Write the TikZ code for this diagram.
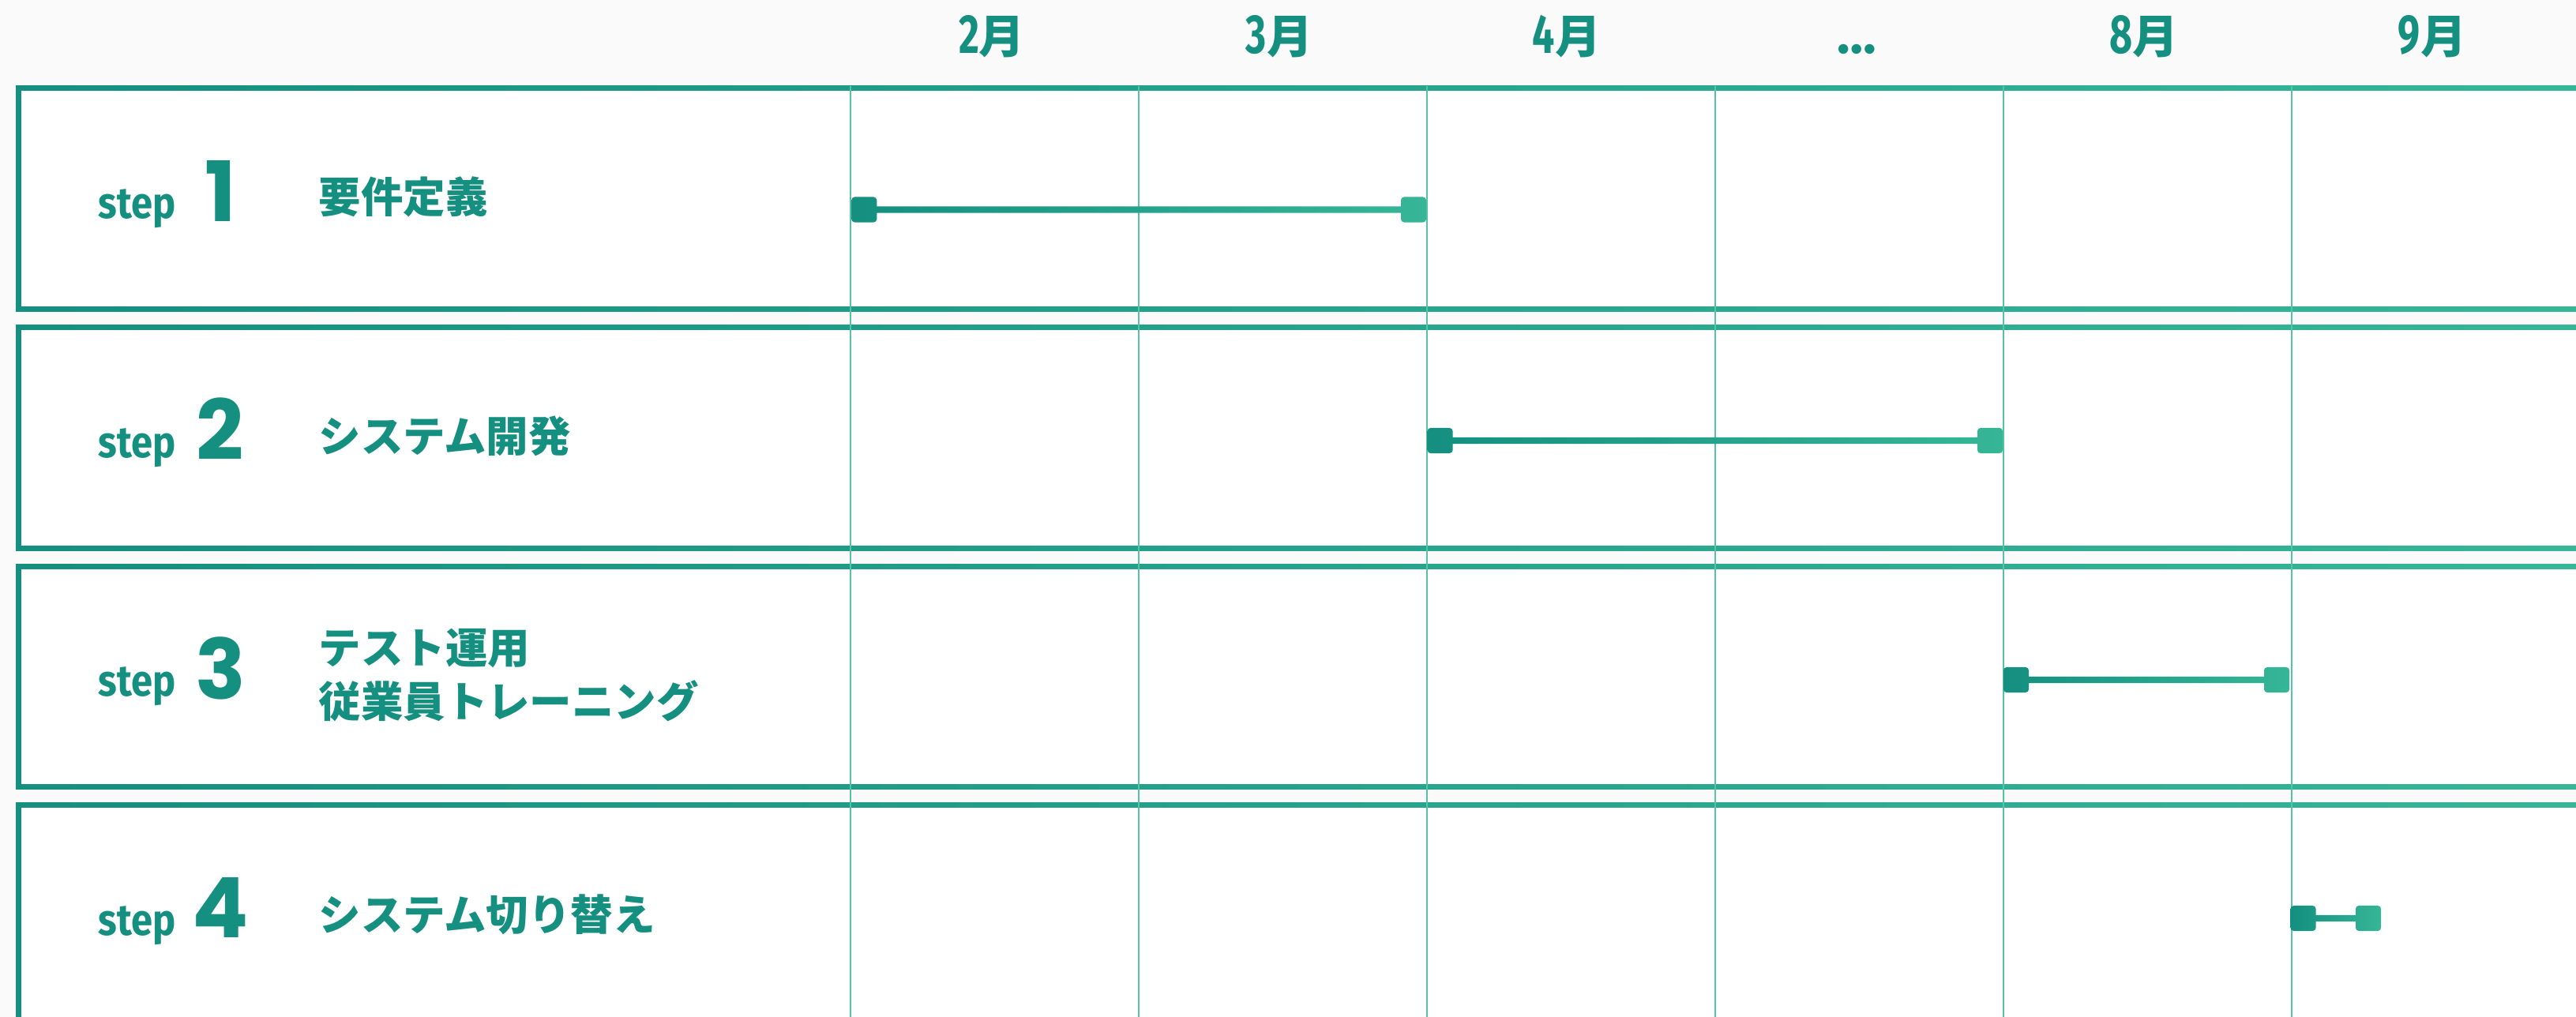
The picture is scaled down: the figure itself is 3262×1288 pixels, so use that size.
\documentclass[tikz,border=0pt]{standalone}
\usepackage{fontspec}
\usetikzlibrary{calc}
\newfontfamily\jpfont{Noto Sans CJK JP}
\newfontfamily\latfont{Fira Sans}
\newfontfamily\stepfont{Fira Sans}[FakeStretch=0.88]
\newfontfamily\monfont{Fira Sans}[FakeStretch=0.72]
\newfontfamily\numfont{Poppins}
\definecolor{gDark}{HTML}{148F80}
\definecolor{gLight}{HTML}{36B697}
\definecolor{txt}{HTML}{158F80}
\definecolor{gridc}{HTML}{55C3A4}
\definecolor{bg}{HTML}{FAFAFA}
\newcommand\mnum[1]{{\monfont\bfseries\fontsize{19.8pt}{20pt}\selectfont #1}}
\newcommand\mtsuki{{\jpfont\bfseries\fontsize{16.5pt}{20pt}\selectfont 月}}
\begin{document}
\begin{tikzpicture}[x=0.01cm,y=-0.01cm,
  month/.style={anchor=base, text=txt, inner sep=0pt},
  steplbl/.style={anchor=base west, text=txt, inner sep=0pt, font=\stepfont\bfseries\fontsize{15.8pt}{16pt}\selectfont},
  stepnum/.style={anchor=base, text=txt, inner sep=0pt, font=\numfont\bfseries\fontsize{30pt}{32pt}\selectfont},
  task/.style={anchor=west, text=txt, inner sep=0pt, align=left, font=\jpfont\bfseries\fontsize{15.2pt}{19.06pt}\selectfont},
  sq/.style={minimum size=0.32cm, inner sep=0pt, outer sep=0pt},
  gridline/.style={draw=gridc, line width=0.018cm},
  bar/.style={left color=gDark, right color=gLight}
]
\useasboundingbox (0,0) rectangle (3262,1288);
\clip (0,0) rectangle (3262,1288);
\fill[bg] (0,0) rectangle (3262,1288);

% header
\node[month] (m2) at (1256,68) {\mnum{2}\mtsuki};
\node[month] (m3) at (1620,68) {\mnum{3}\mtsuki};
\node[month] (m4) at (1984,68) {\mnum{4}\mtsuki};
\node[month, font=\latfont\bfseries\fontsize{19.4pt}{20pt}\selectfont] (mdots) at (2351,68) {…};
\node[month] (m8) at (2715,68) {\mnum{8}\mtsuki};
\node[month] (m9) at (3080,68) {\mnum{9}\mtsuki};

% row boxes
\shade[bar] (20,109) rectangle (3262,394.5);
\fill[white] (26.5,115.5) rectangle (3262,388);
\shade[bar] (20,411.5) rectangle (3262,697);
\fill[white] (26.5,418) rectangle (3262,690.5);
\shade[bar] (20,714) rectangle (3262,999.5);
\fill[white] (26.5,720.5) rectangle (3262,993);
\shade[bar] (20,1016.5) rectangle (3262,1302);
\fill[white] (26.5,1023) rectangle (3262,1295.5);

% grid lines
\foreach \x in {1077,1442,1807,2172,2537,2902}
  \draw[gridline] (\x,109) -- (\x,1288);

% labels
\node[steplbl] (st1) at (124,277) {step};
\node[stepnum] (n1) at (279,280.5) {1};
\node[task] (t1) at (403,249.5) {要件定義};

\node[steplbl] (st2) at (124,579) {step};
\node[stepnum] (n2) at (279,582.7) {2};
\node[task] (t2) at (403,552) {システム開発};

\node[steplbl] (st3) at (124,881.6) {step};
\node[stepnum] (n3) at (279,885) {3};
\node[task] (t3) at (403,855) {テスト運用\\従業員トレーニング};

\node[steplbl] (st4) at (124,1184) {step};
\node[stepnum] (n4) at (279,1187.5) {4};
\node[task] (t4) at (403,1158) {システム切り替え};

% bars
\node[sq] (b1s) at (1094.3,265.5) {};
\node[sq] (b1e) at (1790,265.5) {};
\shade[bar, rounded corners=0.04cm] (b1s.south west) rectangle (b1s.north east)
  (b1e.south west) rectangle (b1e.north east)
  [sharp corners] ($(b1s.east)+(0,-4.2)$) rectangle ($(b1e.west)+(0,4.2)$);

\node[sq] (b2s) at (1823.6,558) {};
\node[sq] (b2e) at (2520,558) {};
\shade[bar, rounded corners=0.04cm] (b2s.south west) rectangle (b2s.north east)
  (b2e.south west) rectangle (b2e.north east)
  [sharp corners] ($(b2s.east)+(0,-4.2)$) rectangle ($(b2e.west)+(0,4.2)$);

\node[sq] (b3s) at (2553,861) {};
\node[sq] (b3e) at (2883,861) {};
\shade[bar, rounded corners=0.04cm] (b3s.south west) rectangle (b3s.north east)
  (b3e.south west) rectangle (b3e.north east)
  [sharp corners] ($(b3s.east)+(0,-4.2)$) rectangle ($(b3e.west)+(0,4.2)$);

\node[sq] (b4s) at (2916.5,1163) {};
\node[sq] (b4e) at (2999,1163) {};
\shade[bar, rounded corners=0.04cm] (b4s.south west) rectangle (b4s.north east)
  (b4e.south west) rectangle (b4e.north east)
  [sharp corners] ($(b4s.east)+(0,-4.2)$) rectangle ($(b4e.west)+(0,4.2)$);
\end{tikzpicture}
\end{document}
